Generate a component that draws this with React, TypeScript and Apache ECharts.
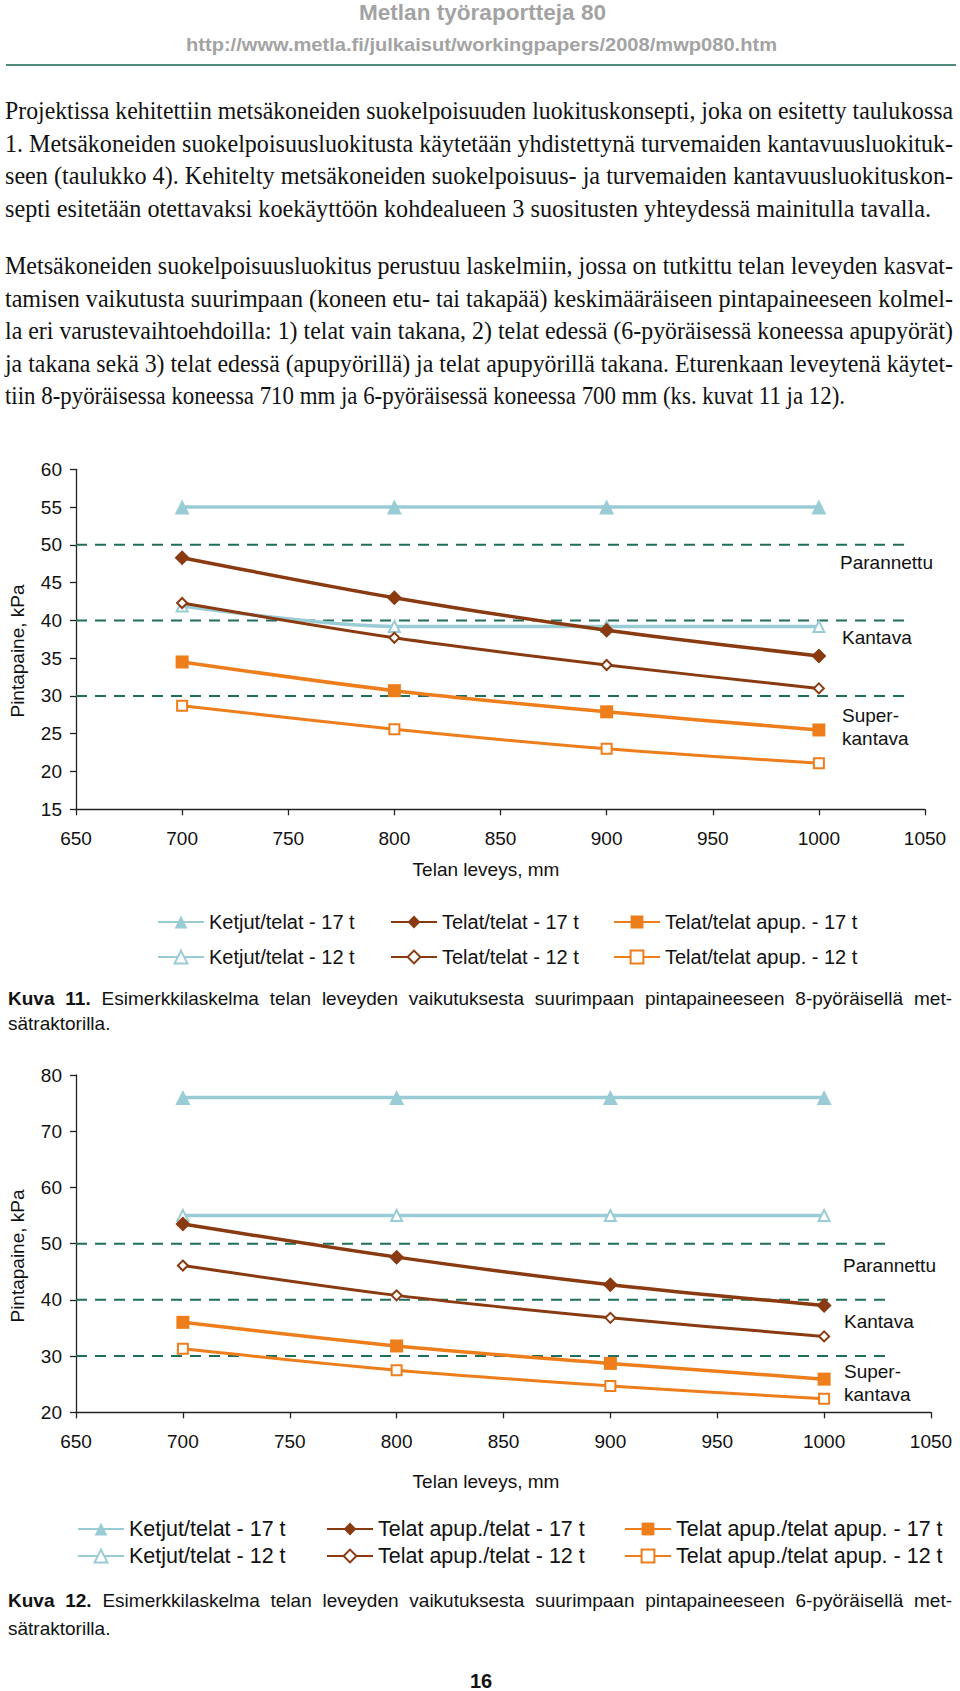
import React, { useEffect, useLayoutEffect, useRef } from "react";
import * as echarts from "echarts";

// ---------- data ----------
const widths = [700, 800, 900, 1000];

// Kuva 11 (8-pyöräinen)
const k11Names = [
  "Ketjut/telat - 17 t",
  "Ketjut/telat - 12 t",
  "Telat/telat - 17 t",
  "Telat/telat - 12 t",
  "Telat/telat apup. - 17 t",
  "Telat/telat apup. - 12 t",
];
const k11Ketjut17 = [55, 55, 55, 55];
const k11Ketjut12 = [41.9, 39.2, 39.2, 39.2];
const k11Telat17 = [48.3, 43.0, 38.7, 35.3];
const k11Telat12 = [42.3, 37.7, 34.1, 31.0];
const k11Apup17 = [34.5, 30.7, 27.9, 25.5];
const k11Apup12 = [28.7, 25.6, 23.0, 21.1];

// Kuva 12 (6-pyöräinen)
const k12Names = [
  "Ketjut/telat - 17 t",
  "Ketjut/telat - 12 t",
  "Telat apup./telat - 17 t",
  "Telat apup./telat - 12 t",
  "Telat apup./telat apup. - 17 t",
  "Telat apup./telat apup. - 12 t",
];
const k12Ketjut17 = [76, 76, 76, 76];
const k12Ketjut12 = [55, 55, 55, 55];
const k12Telat17 = [53.5, 47.6, 42.7, 39.0];
const k12Telat12 = [46.1, 40.8, 36.8, 33.5];
const k12Apup17 = [36.0, 31.8, 28.7, 25.9];
const k12Apup12 = [31.3, 27.5, 24.7, 22.4];

const classLimits = [50, 40, 30];
const classLineEnd1 = 1041;
const classLineEnd2 = 1030;
const classLabels = ["Parannettu", "Kantava", "Super-\nkantava"];

const xMin = 650, xMax = 1050, xStep = 50;
const y1Min = 15, y1Max = 60, y1Step = 5;
const y2Min = 20, y2Max = 80, y2Step = 10;

const yTitle = "Pintapaine, kPa";
const xTitle = "Telan leveys, mm";

// ---------- styles ----------
const LB = "#9accd5";
const BR = "#8a3a10";
const OR = "#ee7d1b";
const DASH = "#1f6e5c";
const SANS = "'Liberation Sans', Arial, Helvetica, sans-serif";
const SERIF = "'Liberation Serif', 'Times New Roman', serif";

const seriesStyles = [
  { sym: "triangle", size: 15, color: LB, lw: 3.5, empty: false },
  { sym: "emptyTriangle", size: 11, color: LB, lw: 3.5, empty: true },
  { sym: "diamond", size: 15, color: BR, lw: 3.5, empty: false },
  { sym: "emptyDiamond", size: 10, color: BR, lw: 3, empty: true },
  { sym: "rect", size: 13, color: OR, lw: 3.5, empty: false },
  { sym: "emptyRect", size: 10, color: OR, lw: 3, empty: true },
];

type Part = { t: string; b?: boolean };

function Line(props: {
  parts: Part[];
  x: number;
  y: number;
  w?: number;
  lh: number;
  size: number;
  family: string;
  mode: "justify" | "fit" | "none";
  color?: string;
  bold?: boolean;
}) {
  const ref = useRef<HTMLSpanElement>(null);
  useLayoutEffect(() => {
    const el = ref.current;
    if (!el || !props.w) return;
    el.style.wordSpacing = "0px";
    el.style.transform = "none";
    const nat = el.getBoundingClientRect().width;
    const text = props.parts.map((p) => p.t).join("");
    const spaces = (text.match(/ /g) || []).length;
    if (props.mode === "justify" && nat < props.w && spaces > 0) {
      el.style.wordSpacing = (props.w - nat) / spaces + "px";
    } else if (props.mode !== "none") {
      el.style.transform = `scaleX(${props.w / nat})`;
    }
  }, []);
  return (
    <div
      style={{
        position: "absolute",
        left: props.x,
        top: props.y - props.lh / 2,
        height: props.lh,
        lineHeight: props.lh + "px",
        whiteSpace: "pre",
        fontFamily: props.family,
        fontSize: props.size,
        color: props.color || "#111",
        fontWeight: props.bold ? "bold" : "normal",
      }}
    >
      <span ref={ref} style={{ display: "inline-block", transformOrigin: "0 50%" }}>
        {props.parts.map((p, i) => (
          <span key={i} style={{ fontWeight: p.b || props.bold ? "bold" : "normal" }}>
            {p.t}
          </span>
        ))}
      </span>
    </div>
  );
}

const para1 = [
  "Projektissa kehitettiin metsäkoneiden suokelpoisuuden luokituskonsepti, joka on esitetty taulukossa",
  "1. Metsäkoneiden suokelpoisuusluokitusta käytetään yhdistettynä turvemaiden kantavuusluokituk-",
  "seen (taulukko 4). Kehitelty metsäkoneiden suokelpoisuus- ja turvemaiden kantavuusluokituskon-",
  "septi esitetään otettavaksi koekäyttöön kohdealueen 3 suositusten yhteydessä mainitulla tavalla.",
];
const para2 = [
  "Metsäkoneiden suokelpoisuusluokitus perustuu laskelmiin, jossa on tutkittu telan leveyden kasvat-",
  "tamisen vaikutusta suurimpaan (koneen etu- tai takapää) keskimääräiseen pintapaineeseen kolmel-",
  "la eri varustevaihtoehdoilla: 1) telat vain takana, 2) telat edessä (6-pyöräisessä koneessa apupyörät)",
  "ja takana sekä 3) telat edessä (apupyörillä) ja telat apupyörillä takana. Eturenkaan leveytenä käytet-",
  "tiin 8-pyöräisessa koneessa 710 mm ja 6-pyöräisessä koneessa 700 mm (ks. kuvat 11 ja 12).",
];

function mkSeries(name: string, data: number[], idx: number, st: any, z: number) {
  return {
    type: "line",
    name,
    xAxisIndex: idx,
    yAxisIndex: idx,
    data: widths.map((x, i) => [x, data[i]]),
    symbol: st.sym,
    symbolSize: st.size,
    smooth: 0.3,
    z,
    lineStyle: { color: st.color, width: st.lw },
    itemStyle: { color: st.color, borderColor: st.color, borderWidth: st.empty ? 2 : 0 },
  };
}

function limitSeries(v: number, end: number, idx: number) {
  return {
    type: "line",
    xAxisIndex: idx,
    yAxisIndex: idx,
    data: [
      [xMin, v],
      [end, v],
    ],
    symbol: "none",
    silent: true,
    z: 1,
    lineStyle: { color: DASH, width: 2, type: [11, 8] },
  };
}

function legendItem(name: string, left: number, centerY: number, fs: number) {
  return {
    show: true,
    data: [name],
    left,
    top: centerY - 10,
    padding: 0,
    itemWidth: 46,
    itemHeight: 16,
    selectedMode: false,
    textStyle: { fontSize: fs, lineHeight: 20, color: "#111", fontFamily: SANS },
  };
}

function axisCommon() {
  return {
    axisLine: { show: true, lineStyle: { color: "#222", width: 1.3 } },
    axisTick: { show: true, length: 6, lineStyle: { color: "#222", width: 1.3 } },
    splitLine: { show: false },
  };
}

function txt(text: string, x: number, y: number, opts: any = {}) {
  return {
    type: "text",
    x,
    y,
    rotation: opts.rotation || 0,
    style: {
      text,
      fontSize: opts.size || 19,
      fontFamily: SANS,
      fill: "#111",
      textAlign: opts.align || "left",
      textVerticalAlign: "middle",
      lineHeight: opts.lh || 23,
    },
  };
}

export default function App() {
  const chartRef = useRef<HTMLDivElement>(null);

  useEffect(() => {
    if (!chartRef.current) return;
    const chart = echarts.init(chartRef.current, undefined, { renderer: "svg" });
    const k11 = [k11Ketjut17, k11Ketjut12, k11Telat17, k11Telat12, k11Apup17, k11Apup12];
    const k12 = [k12Ketjut17, k12Ketjut12, k12Telat17, k12Telat12, k12Apup17, k12Apup12];
    const series: any[] = [];
    classLimits.forEach((v) => series.push(limitSeries(v, classLineEnd1, 0)));
    classLimits.forEach((v) => series.push(limitSeries(v, classLineEnd2, 1)));
    k11.forEach((d, i) => series.push(mkSeries(k11Names[i], d, 0, seriesStyles[i], 3 + i)));
    k12.forEach((d, i) => series.push(mkSeries(k12Names[i], d, 1, seriesStyles[i], 3 + i)));

    const labelStyle = { fontSize: 19, color: "#111", fontFamily: SANS };

    const option: any = {
      animation: false,
      grid: [
        { left: 76, top: 469.3, width: 849, height: 340 },
        { left: 76, top: 1075, width: 855, height: 337.3 },
      ],
      xAxis: [0, 1].map((i) => ({
        type: "value",
        gridIndex: i,
        min: xMin,
        max: xMax,
        interval: xStep,
        ...axisCommon(),
        axisLabel: { ...labelStyle, margin: 20, formatter: (v: number) => String(v) },
      })),
      yAxis: [
        {
          type: "value",
          gridIndex: 0,
          min: y1Min,
          max: y1Max,
          interval: y1Step,
          ...axisCommon(),
          axisLabel: { ...labelStyle, margin: 14 },
        },
        {
          type: "value",
          gridIndex: 1,
          min: y2Min,
          max: y2Max,
          interval: y2Step,
          ...axisCommon(),
          axisLabel: { ...labelStyle, margin: 14 },
        },
      ],
      legend: [
        legendItem(k11Names[0], 157, 922, 20),
        legendItem(k11Names[2], 390, 922, 20),
        legendItem(k11Names[4], 613, 922, 20),
        legendItem(k11Names[1], 157, 957, 20),
        legendItem(k11Names[3], 390, 957, 20),
        legendItem(k11Names[5], 613, 957, 20),
        legendItem(k12Names[0], 77, 1528, 21.5),
        legendItem(k12Names[2], 326, 1528, 21.5),
        legendItem(k12Names[4], 624, 1528, 21.5),
        legendItem(k12Names[1], 77, 1555, 21.5),
        legendItem(k12Names[3], 326, 1555, 21.5),
        legendItem(k12Names[5], 624, 1555, 21.5),
      ],
      graphic: [
        txt(yTitle, 17, 651, { rotation: Math.PI / 2, align: "center" }),
        txt(yTitle, 17, 1256, { rotation: Math.PI / 2, align: "center" }),
        txt(xTitle, 486, 869, { align: "center" }),
        txt(xTitle, 486, 1481, { align: "center" }),
        txt(classLabels[0], 840, 562),
        txt(classLabels[1], 842, 637),
        txt(classLabels[2], 842, 726.5),
        txt(classLabels[0], 843, 1265),
        txt(classLabels[1], 844, 1321),
        txt(classLabels[2], 844, 1383),
      ],
      series,
    };
    chart.setOption(option);
    return () => chart.dispose();
  }, []);

  const pLh = 32.6;
  return (
    <div style={{ position: "absolute", left: 0, top: 0, width: 960, height: 1691, background: "#fff", overflow: "hidden" }}>
      <div ref={chartRef} style={{ position: "absolute", left: 0, top: 0, width: 960, height: 1691 }} />
      <Line parts={[{ t: "Metlan työraportteja 80" }]} x={359} y={13} w={247} lh={24} size={22} family={SANS} mode="fit" color="#a3a3a3" bold />
      <Line parts={[{ t: "http://www.metla.fi/julkaisut/workingpapers/2008/mwp080.htm" }]} x={186} y={45} w={591} lh={22} size={19} family={SANS} mode="fit" color="#a3a3a3" bold />
      <div style={{ position: "absolute", left: 6, top: 64, width: 950, height: 2, background: "#4f8a7c" }} />
      {para1.map((t, i) => (
        <Line key={"p1" + i} parts={[{ t }]} x={5} y={111 + i * pLh} w={i === 3 ? 926 : 948} lh={30} size={24.5} family={SERIF} mode={i === 3 ? "fit" : "justify"} />
      ))}
      {para2.map((t, i) => (
        <Line key={"p2" + i} parts={[{ t }]} x={5} y={266 + i * pLh} w={i === 4 ? 840 : 948} lh={30} size={24.5} family={SERIF} mode={i === 4 ? "fit" : "justify"} />
      ))}
      <Line parts={[{ t: "Kuva 11.", b: true }, { t: " Esimerkkilaskelma telan leveyden vaikutuksesta suurimpaan pintapaineeseen 8-pyöräisellä met-" }]} x={8} y={999} w={944} lh={24} size={19} family={SANS} mode="justify" />
      <Line parts={[{ t: "sätraktorilla." }]} x={8} y={1024} lh={24} size={19} family={SANS} mode="none" />
      <Line parts={[{ t: "Kuva 12.", b: true }, { t: " Esimerkkilaskelma telan leveyden vaikutuksesta suurimpaan pintapaineeseen 6-pyöräisellä met-" }]} x={8} y={1601} w={944} lh={24} size={19} family={SANS} mode="justify" />
      <Line parts={[{ t: "sätraktorilla." }]} x={8} y={1629} lh={24} size={19} family={SANS} mode="none" />
      <div style={{ position: "absolute", left: 0, width: 962, top: 1669, height: 24, lineHeight: "24px", textAlign: "center", fontFamily: SANS, fontWeight: "bold", fontSize: 20, color: "#111" }}>16</div>
    </div>
  );
}
